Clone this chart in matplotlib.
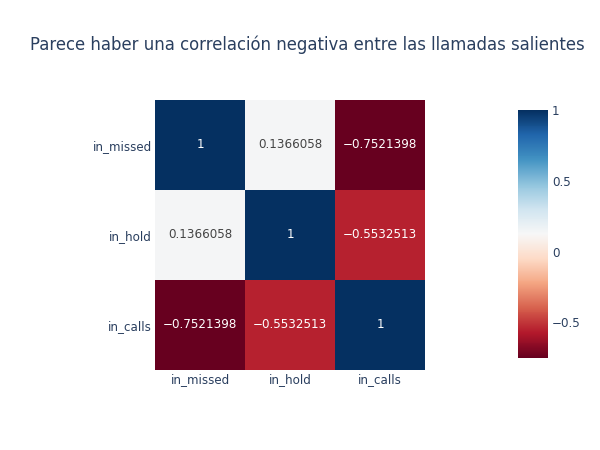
import matplotlib
matplotlib.use("Agg")
import matplotlib.pyplot as plt
import numpy as np
from matplotlib.colors import Normalize

plt.rcParams['font.family'] = ['DejaVu Sans']

labels = ["in_missed", "in_hold", "in_calls"]
corr = [
    [1.0, 0.1366058, -0.7521398],
    [0.1366058, 1.0, -0.5532513],
    [-0.7521398, -0.5532513, 1.0],
]
text_labels = [
    ["1", "0.1366058", "\u22120.7521398"],
    ["0.1366058", "1", "\u22120.5532513"],
    ["\u22120.7521398", "\u22120.5532513", "1"],
]
cbar_ticks = [-0.5, 0, 0.5, 1]
cbar_ticklabels = ["\u22120.5", "0", "0.5", "1"]
title = "Parece haber una correlación negativa entre las llamadas salientes"

data = np.array(corr)
vmin, vmax = data.min(), data.max()
fig = plt.figure(figsize=(6, 4.5), dpi=100)
ax = fig.add_axes([155/600, 80/450, 270/600, 270/450])
cmap = plt.get_cmap("RdBu")
norm = Normalize(vmin=vmin, vmax=vmax)
im = ax.imshow(data, cmap=cmap, norm=norm, aspect="auto")
ax.set_xticks(range(len(labels)))
ax.set_xticklabels(labels)
ax.set_yticks(range(len(labels)))
ax.set_yticklabels(labels)
for s in ax.spines.values():
    s.set_visible(False)
ax.tick_params(length=0, labelsize=8.6, colors="#2a3f5f", pad=2)
for i in range(3):
    for j in range(3):
        v = data[i, j]
        c = "white" if abs(norm(v) - 0.5) > 0.25 else "#444444"
        ax.text(j, i, text_labels[i][j], ha="center", va="center",
                color=c, fontsize=8.6)

cax = fig.add_axes([518/600, 92/450, 30/600, 248/450])
cb = fig.colorbar(im, cax=cax)
cb.outline.set_visible(False)
cb.set_ticks(cbar_ticks)
cb.set_ticklabels(cbar_ticklabels)
cax.tick_params(length=0, labelsize=8.6, colors="#2a3f5f", pad=3)

fig.text(30/600, 1 - 45/450, title, ha="left", va="center",
         fontsize=11.9, color="#2a3f5f")

fig.savefig("out.png", dpi=100)
